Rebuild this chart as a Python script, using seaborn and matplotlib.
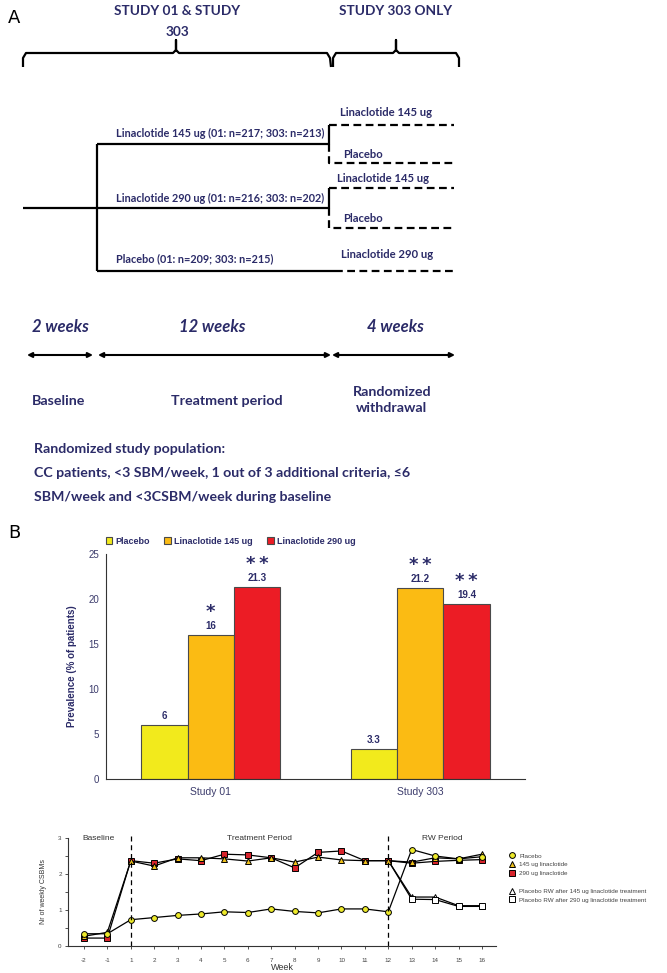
import matplotlib
matplotlib.use("Agg")
import pandas as pd
from matplotlib import pyplot as plt
from matplotlib.lines import Line2D
import seaborn as sns

# ---- panel B, top: responders per study
studies = ["Study 01", "Study 303"]
groups = ["Placebo", "Linaclotide 145 ug", "Linaclotide 290 ug"]
prevalence_01 = [6, 16, 21.3]
prevalence_303 = [3.3, 21.2, 19.4]
stars_01 = ["", "*", "**"]
stars_303 = ["", "**", "**"]

# ---- panel B, bottom: weekly CSBMs
weeks = [-2, -1, 1, 2, 3, 4, 5, 6, 7, 8, 9, 10, 11, 12, 13, 14, 15, 16]
placebo = [0.34, 0.34, 0.73, 0.79, 0.85, 0.89, 0.95, 0.93, 1.03, 0.96,
           0.92, 1.03, 1.03, 0.95, 2.68, 2.50, 2.42, 2.48]
lin145 = [0.27, 0.38, 2.36, 2.22, 2.45, 2.45, 2.42, 2.36, 2.45, 2.33,
          2.47, 2.39, 2.37, 2.37, 2.33, 2.45, 2.42, 2.55]
lin290 = [0.22, 0.22, 2.37, 2.30, 2.42, 2.37, 2.55, 2.53, 2.45, 2.17,
          2.60, 2.64, 2.37, 2.37, 2.30, 2.35, 2.38, 2.40]
rw_weeks = [12, 13, 14, 15, 16]
rw_after_145 = [2.37, 1.36, 1.36, 1.12, 1.12]
rw_after_290 = [2.37, 1.30, 1.29, 1.10, 1.10]

NAVY = "#2b2b68"
BAR_COLORS = ["#f2ea1c", "#fbbb13", "#ec1c25"]
ARIAL = ["Liberation Sans", "DejaVu Sans"]

sns.set_theme(style="white")
plt.rcParams["font.family"] = ["Lato", "DejaVu Sans"]

fig = plt.figure(figsize=(6.67, 9.73), dpi=100)

# ---- panel A: study design drawn in pixel coordinates
ax0 = fig.add_axes([0, 0, 1, 1])
ax0.set_xlim(0, 667)
ax0.set_ylim(973, 0)
ax0.axis("off")

solid = dict(color="black", lw=1.6, solid_capstyle="butt")
dashed = dict(color="black", lw=1.6, ls=(0, (3.5, 2)))

# braces
ax0.plot([23, 23, 26, 173, 176, 176, 176, 179, 327, 330, 331],
         [67, 58, 53, 53, 50, 40, 50, 53, 53, 58, 67], **solid)
ax0.plot([333, 333, 336, 393, 396, 396, 396, 399, 456, 459, 459],
         [67, 58, 53, 53, 50, 40, 50, 53, 53, 58, 67], **solid)

# tree
ax0.plot([23, 97], [208, 208], **solid)
ax0.plot([97, 97], [144, 271], **solid)
ax0.plot([97, 329, 329], [144, 144, 125], **solid)
ax0.plot([97, 329, 329], [208, 208, 188], **solid)
ax0.plot([97, 335], [271, 271], **solid)
ax0.plot([329, 454], [125, 125], **dashed)
ax0.plot([329, 329, 454], [144, 163, 163], **dashed)
ax0.plot([329, 454], [188, 188], **dashed)
ax0.plot([329, 329, 454], [208, 228, 228], **dashed)
ax0.plot([335, 454], [271, 271], **dashed)

ax0.text(8, 18, "A", fontsize=13, color="black", va="center", family="DejaVu Sans")
ax0.text(8, 533, "B", fontsize=13, color="black", va="center", family="DejaVu Sans")

head = dict(color=NAVY, fontsize=9.8, fontweight="bold", ha="center", va="center")
ax0.text(177, 11, "STUDY 01 & STUDY", **head)
ax0.text(177, 32, "303", **head)
ax0.text(396, 11, "STUDY 303 ONLY", **head)

arm = dict(color=NAVY, fontsize=7.8, fontweight="bold", va="center")
ax0.text(116, 133, "Linaclotide 145 ug (01: n=217; 303: n=213)", **arm)
ax0.text(116, 198, "Linaclotide 290 ug (01: n=216; 303: n=202)", **arm)
ax0.text(116, 259, "Placebo (01: n=209; 303: n=215)", **arm)
arm["fontsize"] = 8.1
ax0.text(340, 113, "Linaclotide 145 ug", **arm)
ax0.text(343, 155, "Placebo", **arm)
ax0.text(337, 179, "Linaclotide 145 ug", **arm)
ax0.text(343, 218, "Placebo", **arm)
ax0.text(341, 254, "Linaclotide 290 ug", **arm)

wk = dict(color=NAVY, fontsize=12, fontweight="bold", fontstyle="italic",
          ha="center", va="center")
ax0.text(60, 327, "2 weeks", **wk)
ax0.text(212, 327, "12 weeks", **wk)
ax0.text(395, 327, "4 weeks", **wk)
for x0, x1 in [(27, 93), (98, 331), (332, 455)]:
    ax0.annotate("", xy=(x1, 355), xytext=(x0, 355),
                 arrowprops=dict(arrowstyle="<|-|>", color="black", lw=1.5,
                                 mutation_scale=7, shrinkA=0, shrinkB=0))

ph = dict(color=NAVY, fontsize=10.3, fontweight="bold", ha="center", va="center")
ax0.text(59, 401, "Baseline", **ph)
ax0.text(227, 401, "Treatment period", **ph)
ax0.text(392, 400, "Randomized\nwithdrawal", linespacing=1.35, **ph)

pop = dict(color=NAVY, fontsize=10.2, fontweight="bold", va="center")
ax0.text(34, 449, "Randomized study population:", **pop)
ax0.text(34, 473, "CC patients, <3 SBM/week, 1 out of 3 additional criteria, \u22646", **pop)
ax0.text(34, 497, "SBM/week and <3CSBM/week during baseline", **pop)

# ---- panel B, bar chart
bars = pd.DataFrame({
    "Study": [s for s in studies for _ in groups],
    "Group": groups * len(studies),
    "Prevalence": prevalence_01 + prevalence_303,
})
stars = stars_01 + stars_303

ax1 = fig.add_axes([106 / 667, 1 - 779 / 973, 419 / 667, 225 / 973])
sns.barplot(data=bars, x="Study", y="Prevalence", hue="Group", order=studies,
            hue_order=groups, palette=BAR_COLORS, width=0.665, saturation=1,
            edgecolor="#4a4a4a", linewidth=0.8, ax=ax1)
ax1.set_ylim(0, 25)
ax1.set_xlim(-0.5, 1.5)
ax1.set_yticks([0, 5, 10, 15, 20, 25])
sns.despine(ax=ax1)
for sp in ["left", "bottom"]:
    ax1.spines[sp].set_color("#333333")
    ax1.spines[sp].set_linewidth(0.8)
ax1.tick_params(axis="y", direction="out", length=3, width=0.7, color="#333333",
                labelsize=7, labelcolor="#3c3c6c", pad=2)
ax1.tick_params(axis="x", length=0, labelsize=7.5, labelcolor="#3c3c6c", pad=6)
for lab in ax1.get_xticklabels() + ax1.get_yticklabels():
    lab.set_family(ARIAL)
ax1.set_xlabel("")
ax1.set_ylabel("Prevalence (% of patients)", fontsize=7, fontweight="bold",
               color=NAVY, family=ARIAL, labelpad=8)

for c in ax1.containers:
    ax1.bar_label(c, fmt="%g", padding=3, fontsize=7, fontweight="bold",
                  color=NAVY, family=ARIAL)
for gi, c in enumerate(ax1.containers):
    for si, p in enumerate(c.patches):
        st = stars[si * len(groups) + gi]
        if st:
            ax1.text(p.get_x() + p.get_width() / 2, p.get_height() + 2.0,
                     "\u2009".join(st), ha="center", va="baseline", fontsize=13,
                     fontweight="bold", color=NAVY, family="DejaVu Sans")

h, l = ax1.get_legend_handles_labels()
ax1.legend(h, l, ncol=3, loc="center left",
           bbox_to_anchor=(101 / 667, 1 - 541 / 973), bbox_transform=fig.transFigure,
           frameon=False, handlelength=0.7, handleheight=0.7,
           handletextpad=0.4, columnspacing=1.6, borderpad=0,
           prop=dict(family=ARIAL, weight="bold", size=6.5))
for t in ax1.get_legend().get_texts():
    t.set_color(NAVY)

# ---- panel B, weekly CSBMs
pos = list(range(len(weeks)))
rw_pos = [weeks.index(w) for w in rw_weeks]
ax2 = fig.add_axes([68 / 667, 1 - 946 / 973, 428 / 667, 108 / 973])
line_kw = dict(color="black", lw=0.9, markersize=4.2, markeredgecolor="black",
               markeredgewidth=0.7, ax=ax2)
sns.lineplot(x=rw_pos, y=rw_after_145, marker="^", markerfacecolor="white",
             label="Placebo RW after 145 ug linaclotide treatment", **line_kw)
sns.lineplot(x=rw_pos, y=rw_after_290, marker="s", markerfacecolor="white",
             label="Placebo RW after 290 ug linaclotide treatment", **line_kw)
sns.lineplot(x=pos, y=lin290, marker="s", markerfacecolor="#d7232b",
             label="290 ug linaclotide", **line_kw)
sns.lineplot(x=pos, y=lin145, marker="^", markerfacecolor="#f0c21c",
             label="145 ug linaclotide", **line_kw)
sns.lineplot(x=pos, y=placebo, marker="o", markerfacecolor="#eeea2a",
             label="Placebo", **line_kw)
for w in [1, 12]:
    ax2.axvline(weeks.index(w), color="black", lw=0.9, ls=(0, (4, 3)), ymax=1.04,
                clip_on=False)
ax2.set_xlim(-0.68, 17.6)
ax2.set_ylim(0, 3)
ax2.set_xticks(pos)
ax2.set_xticklabels([str(w) for w in weeks])
ax2.set_yticks([0, 1, 2, 3])
ax2.set_yticks([0.5, 1.5, 2.5], minor=True)
sns.despine(ax=ax2)
for sp in ["left", "bottom"]:
    ax2.spines[sp].set_linewidth(0.8)
    ax2.spines[sp].set_color("#333333")
ax2.tick_params(which="both", direction="out", length=2.5, width=0.6, color="#333333",
                labelsize=4.5, labelcolor="#444444", pad=2, left=True, bottom=True)
ax2.tick_params(axis="x", pad=6)
ax2.set_xlabel("Week", fontsize=6.5, color="#333333", labelpad=0, family=ARIAL)
ax2.set_ylabel("Nr of weekly CSBMs", fontsize=5, color="#333333", labelpad=8,
               family=ARIAL)
for lab in ax2.get_xticklabels() + ax2.get_yticklabels():
    lab.set_family(ARIAL)
per = dict(fontsize=6, color="#333333", ha="center", va="center", family=ARIAL)
ax2.text(0.64, 3.0, "Baseline", **per)
ax2.text(7.5, 3.0, "Treatment Period", **per)
ax2.text(15.3, 3.0, "RW Period", **per)

h, l = ax2.get_legend_handles_labels()
by = dict(zip(l, h))
order = ["Placebo", "145 ug linaclotide", "290 ug linaclotide", "",
         "Placebo RW after 145 ug linaclotide treatment",
         "Placebo RW after 290 ug linaclotide treatment"]
handles = []
for name in order:
    if name:
        src = by[name]
        handles.append(Line2D([], [], ls="none", marker=src.get_marker(),
                              markerfacecolor=src.get_markerfacecolor(),
                              markeredgecolor="black", markeredgewidth=0.7,
                              markersize=4.2))
    else:
        handles.append(Line2D([], [], ls="none"))
ax2.legend(handles, order, loc="upper left",
           bbox_to_anchor=(506 / 667, 1 - 850 / 973), bbox_transform=fig.transFigure,
           frameon=False, handlelength=1.0, handletextpad=0.6, labelspacing=0.55,
           borderpad=0, prop=dict(family=ARIAL, size=4.5))
for t in ax2.get_legend().get_texts():
    t.set_color("#444444")

fig.savefig("out.png", dpi=100)
